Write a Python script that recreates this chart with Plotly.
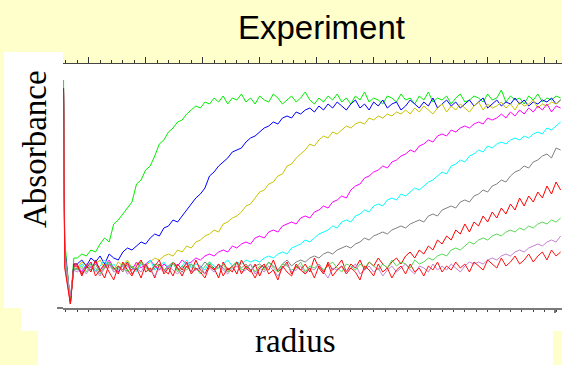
import plotly.graph_objects as go

# Radial scan positions (mm): meniscus region first, then the regular scan grid
radius = [59.78, 59.79, 59.84, 59.87,
          59.90, 59.94, 59.98, 60.02, 60.06, 60.10, 60.14, 60.18, 60.22, 60.26,
          60.30, 60.34, 60.38, 60.42, 60.46, 60.50, 60.54, 60.58, 60.62, 60.66,
          60.70, 60.74, 60.78, 60.82, 60.86, 60.90, 60.94, 60.98, 61.02, 61.06,
          61.10, 61.14, 61.18, 61.22, 61.26, 61.30, 61.34, 61.38, 61.42, 61.46,
          61.50, 61.54, 61.58, 61.62, 61.66, 61.70, 61.74, 61.78, 61.82, 61.86,
          61.90, 61.94, 61.98, 62.02, 62.06, 62.10, 62.14, 62.18, 62.22, 62.26,
          62.30, 62.34, 62.38, 62.42, 62.46, 62.50, 62.54, 62.58, 62.62, 62.66,
          62.70, 62.74, 62.78, 62.82, 62.86, 62.90, 62.94, 62.98, 63.02, 63.06,
          63.10, 63.14, 63.18, 63.22, 63.26, 63.30, 63.34, 63.38, 63.42, 63.46,
          63.50, 63.54, 63.58, 63.62, 63.66, 63.70, 63.74, 63.78, 63.82, 63.86,
          63.90, 63.94, 63.98, 64.02, 64.06, 64.10, 64.14]

# Absorbance scans, earliest to latest
scan_1 = [1.14, 0.34, 0.02, 0.25,
          0.25, 0.27, 0.26, 0.29, 0.28, 0.32, 0.35, 0.33, 0.42, 0.44,
          0.47, 0.50, 0.53, 0.62, 0.64, 0.69, 0.71, 0.76, 0.82, 0.84,
          0.88, 0.90, 0.93, 0.94, 0.97, 0.99, 1.01, 1.00, 1.03, 1.02,
          1.05,
          1.03, 1.06, 1.02, 1.05, 1.04, 1.07, 1.03, 1.05, 1.02, 1.06,
          1.04, 1.03, 1.07, 1.05, 1.02, 1.04, 1.06, 1.03, 1.05, 1.08,
          1.04, 1.02, 1.05, 1.03, 1.06, 1.04, 1.07, 1.03, 1.05, 1.02,
          1.06, 1.04, 1.08, 1.03, 1.05, 1.04, 1.02, 1.06, 1.05, 1.03,
          1.07, 1.04, 1.05, 1.02, 1.06, 1.04, 1.08, 1.03, 1.05, 1.04,
          1.06, 1.02, 1.05, 1.07, 1.03, 1.04, 1.06, 1.05, 1.03, 1.07,
          1.04, 1.05, 1.09, 1.03, 1.06, 1.04, 1.05, 1.02, 1.06, 1.04,
          1.07, 1.03, 1.05, 1.04, 1.06, 1.05]

scan_2 = [1.10, 0.30, 0.03, 0.22,
          0.22, 0.24, 0.21, 0.25, 0.23, 0.26, 0.22, 0.27, 0.25, 0.24,
          0.28, 0.30, 0.29, 0.31, 0.33, 0.32, 0.35, 0.37, 0.36, 0.40,
          0.41, 0.44, 0.43, 0.46, 0.49, 0.52, 0.55, 0.57, 0.60, 0.66,
          0.68, 0.71, 0.73, 0.75, 0.78, 0.79, 0.80, 0.83, 0.85, 0.86,
          0.88, 0.90, 0.91, 0.93, 0.92, 0.95, 0.96, 0.95, 0.98, 0.97,
          0.99, 1.00, 0.98, 1.01, 0.99, 1.02,
          1.00, 1.03, 1.01, 0.99, 1.02, 1.04, 1.00, 1.02, 0.99, 1.03,
          1.01, 1.04, 1.00, 1.02, 1.03, 0.99, 1.01, 1.04, 1.02, 1.00,
          1.03, 1.01, 1.05, 1.00, 1.02, 1.04, 1.01, 1.03, 1.00, 1.02,
          1.04, 1.01, 1.03, 1.05, 1.00, 1.02, 1.04, 1.01, 1.03, 1.02,
          1.05, 1.02, 1.04, 1.01, 1.03, 1.02, 1.04, 1.03, 1.05, 1.02,
          1.04]

scan_3 = [1.08, 0.28, 0.04, 0.20,
          0.20, 0.23, 0.21, 0.19, 0.22, 0.24, 0.20, 0.22, 0.19, 0.23,
          0.21, 0.24, 0.20, 0.22, 0.23, 0.21,
          0.23, 0.25, 0.24, 0.26, 0.27, 0.26, 0.29, 0.28, 0.31, 0.30,
          0.33, 0.34, 0.36, 0.37, 0.39, 0.38, 0.42, 0.43, 0.45, 0.46,
          0.48, 0.51, 0.52, 0.55, 0.58, 0.59, 0.62, 0.63, 0.66, 0.67,
          0.71, 0.72, 0.75, 0.77, 0.79, 0.82, 0.81, 0.84, 0.86, 0.85,
          0.88, 0.87, 0.89, 0.91, 0.90, 0.92, 0.93, 0.92, 0.95, 0.94,
          0.96, 0.95, 0.97, 0.96, 0.98, 0.97,
          0.99, 0.97, 1.00, 0.98, 1.01, 0.99, 0.97, 1.00, 1.02, 0.98,
          1.01, 0.99, 1.02, 1.00, 0.98, 1.01, 1.03, 0.99, 1.02, 1.00,
          1.01, 1.03, 1.00, 1.02, 0.99, 1.03, 1.01, 1.02, 1.04, 1.00,
          1.02, 1.01, 1.03, 1.02, 1.04]

scan_4 = [1.07, 0.27, 0.04, 0.21,
          0.21, 0.18, 0.22, 0.20, 0.23, 0.19, 0.21, 0.24, 0.20, 0.18,
          0.22, 0.21, 0.19, 0.23, 0.20, 0.22, 0.24, 0.21, 0.19, 0.22,
          0.20, 0.23, 0.21, 0.24, 0.22,
          0.23, 0.25, 0.24, 0.26, 0.27, 0.26, 0.28, 0.29, 0.28, 0.31,
          0.30, 0.32, 0.33, 0.32, 0.35, 0.36, 0.35, 0.38, 0.39, 0.38,
          0.41, 0.42, 0.43, 0.42, 0.45, 0.46, 0.45, 0.48, 0.49, 0.51,
          0.50, 0.53, 0.54, 0.56, 0.55, 0.59, 0.61, 0.62, 0.65, 0.66,
          0.68, 0.69, 0.71, 0.70, 0.73, 0.74, 0.76, 0.77, 0.79, 0.78,
          0.81, 0.82, 0.84, 0.83, 0.86, 0.87, 0.86, 0.89, 0.88, 0.90,
          0.91, 0.90, 0.92, 0.93, 0.92, 0.95, 0.94, 0.95, 0.97, 0.95,
          0.98, 0.96, 0.99, 0.97, 1.00, 0.98, 1.01, 0.99, 1.02, 0.98,
          1.01, 1.00]

scan_5 = [1.06, 0.26, 0.05, 0.20,
          0.19, 0.22, 0.20, 0.23, 0.18, 0.21, 0.24, 0.20, 0.22, 0.19,
          0.21, 0.23, 0.20, 0.18, 0.22, 0.21, 0.24, 0.19, 0.21, 0.23,
          0.20, 0.22, 0.19, 0.21, 0.24, 0.20, 0.22, 0.21, 0.19, 0.23,
          0.21, 0.20, 0.22, 0.24, 0.21, 0.23, 0.22, 0.24,
          0.23, 0.24, 0.23, 0.25, 0.26, 0.25, 0.27, 0.28, 0.27, 0.30,
          0.31, 0.32, 0.34, 0.33, 0.35, 0.37, 0.38, 0.39, 0.41, 0.40,
          0.43, 0.44, 0.43, 0.46, 0.47, 0.49, 0.48, 0.51, 0.52, 0.51,
          0.54, 0.55, 0.54, 0.57, 0.56, 0.58, 0.60, 0.59, 0.61, 0.63,
          0.64, 0.66, 0.68, 0.67, 0.71, 0.72, 0.74, 0.73, 0.76, 0.77,
          0.79, 0.78, 0.81, 0.80, 0.82, 0.83, 0.82, 0.84, 0.85, 0.84,
          0.86, 0.85, 0.87, 0.88, 0.87, 0.90, 0.89, 0.91, 0.93]

scan_6 = [1.05, 0.25, 0.04, 0.19,
          0.20, 0.17, 0.21, 0.19, 0.22, 0.18, 0.20, 0.23, 0.19, 0.21,
          0.18, 0.22, 0.20, 0.19, 0.23, 0.21, 0.18, 0.20, 0.22, 0.19,
          0.21, 0.23, 0.20, 0.18, 0.21, 0.22, 0.19, 0.20, 0.23, 0.21,
          0.19, 0.22, 0.20, 0.18, 0.21, 0.23, 0.20, 0.22, 0.19, 0.21,
          0.22, 0.20, 0.23, 0.21, 0.19, 0.22, 0.24, 0.21,
          0.23, 0.24, 0.23, 0.25, 0.26, 0.25, 0.27, 0.28, 0.27, 0.29,
          0.30, 0.31, 0.30, 0.32, 0.33, 0.35, 0.34, 0.36, 0.37, 0.38,
          0.37, 0.39, 0.40, 0.41, 0.40, 0.42, 0.43, 0.44, 0.43, 0.46,
          0.47, 0.46, 0.49, 0.50, 0.51, 0.50, 0.53, 0.54, 0.53, 0.56,
          0.57, 0.59, 0.58, 0.61, 0.62, 0.64, 0.63, 0.66, 0.68, 0.69,
          0.71, 0.70, 0.73, 0.74, 0.76, 0.77, 0.75, 0.80, 0.79]

scan_7 = [1.10, 0.22, 0.02, 0.22,
          0.22, 0.16, 0.21, 0.18, 0.24, 0.19, 0.15, 0.22, 0.20, 0.17,
          0.23, 0.19, 0.16, 0.21, 0.24, 0.18, 0.20, 0.15, 0.22, 0.19,
          0.17, 0.23, 0.20, 0.16, 0.21, 0.18, 0.24, 0.19, 0.17, 0.22,
          0.20, 0.15, 0.23, 0.19, 0.21, 0.17, 0.24, 0.20, 0.18, 0.22,
          0.16, 0.21, 0.19, 0.24, 0.18, 0.20, 0.23, 0.17, 0.21, 0.19,
          0.22, 0.18, 0.25, 0.20, 0.17, 0.23, 0.19, 0.21, 0.24, 0.18,
          0.22, 0.20, 0.24, 0.19, 0.23, 0.21, 0.25, 0.22, 0.20,
          0.23, 0.25, 0.22, 0.26, 0.28, 0.25, 0.29, 0.27, 0.31, 0.29,
          0.34, 0.32, 0.36, 0.34, 0.39, 0.37, 0.42, 0.38, 0.43, 0.41,
          0.46, 0.43, 0.48, 0.45, 0.50, 0.47, 0.52, 0.49, 0.55, 0.51,
          0.56, 0.53, 0.58, 0.55, 0.61, 0.57, 0.63, 0.59]

scan_8 = [1.04, 0.24, 0.05, 0.20,
          0.19, 0.21, 0.18, 0.22, 0.20, 0.17, 0.21, 0.23, 0.19, 0.20,
          0.22, 0.18, 0.21, 0.19, 0.23, 0.20, 0.18, 0.22, 0.21, 0.19,
          0.20, 0.23, 0.18, 0.21, 0.19, 0.22, 0.20, 0.17, 0.21, 0.23,
          0.19, 0.20, 0.22, 0.18, 0.21, 0.23, 0.19, 0.20, 0.22, 0.18,
          0.21, 0.19, 0.23, 0.20, 0.18, 0.22, 0.21, 0.19, 0.20, 0.23,
          0.18, 0.21, 0.20, 0.22, 0.19, 0.21, 0.23, 0.20, 0.18, 0.22,
          0.21, 0.19, 0.22, 0.20, 0.23, 0.21, 0.19, 0.22, 0.20, 0.24,
          0.21, 0.23, 0.22, 0.20, 0.24, 0.22,
          0.23, 0.25, 0.24, 0.26, 0.27, 0.26, 0.29, 0.30, 0.29, 0.31,
          0.33, 0.32, 0.34, 0.35, 0.34, 0.36, 0.37, 0.36, 0.38, 0.39,
          0.38, 0.40, 0.39, 0.41, 0.40, 0.42, 0.43, 0.42, 0.44, 0.43,
          0.45]

scan_9 = [1.02, 0.23, 0.06, 0.19,
          0.18, 0.20, 0.17, 0.21, 0.19, 0.16, 0.20, 0.22, 0.18, 0.19,
          0.21, 0.17, 0.19, 0.20, 0.18, 0.22, 0.19, 0.16, 0.20, 0.18,
          0.21, 0.19, 0.17, 0.20, 0.22, 0.18, 0.19, 0.21, 0.17, 0.20,
          0.18, 0.22, 0.19, 0.17, 0.20, 0.21, 0.18, 0.19, 0.22, 0.17,
          0.20, 0.18, 0.21, 0.19, 0.16, 0.20, 0.22, 0.18, 0.19, 0.21,
          0.17, 0.20, 0.19, 0.22, 0.18, 0.15, 0.20, 0.19, 0.21, 0.18,
          0.20, 0.22, 0.17, 0.19, 0.21, 0.18, 0.20, 0.16, 0.19, 0.21,
          0.18, 0.20, 0.22, 0.19, 0.17, 0.21, 0.20, 0.18, 0.22, 0.19,
          0.21, 0.19, 0.22, 0.20, 0.18, 0.21, 0.23,
          0.22, 0.23, 0.22, 0.24, 0.25, 0.24, 0.26, 0.27, 0.26, 0.28,
          0.29, 0.28, 0.30, 0.31, 0.32, 0.31, 0.33, 0.34, 0.33, 0.36]

scan_10 = [1.08, 0.20, 0.02, 0.21,
           0.21, 0.17, 0.20, 0.23, 0.16, 0.19, 0.22, 0.18, 0.14, 0.21,
           0.19, 0.23, 0.17, 0.20, 0.15, 0.22, 0.18, 0.21, 0.24, 0.17,
           0.20, 0.16, 0.22, 0.19, 0.23, 0.17, 0.20, 0.18, 0.15, 0.21,
           0.19, 0.22, 0.16, 0.20, 0.18, 0.23, 0.17, 0.21, 0.19, 0.15,
           0.20, 0.22, 0.17, 0.19, 0.14, 0.21, 0.18, 0.16, 0.22, 0.19,
           0.17, 0.20, 0.15, 0.21, 0.18, 0.22, 0.16, 0.19, 0.21, 0.17,
           0.20, 0.18, 0.14, 0.21, 0.19, 0.16, 0.22, 0.18, 0.20, 0.15,
           0.19, 0.21, 0.17, 0.22, 0.18, 0.20, 0.16, 0.21, 0.19, 0.23,
           0.18,
           0.21, 0.19, 0.23, 0.20, 0.22, 0.18, 0.23, 0.21, 0.19, 0.24,
           0.22, 0.20, 0.25, 0.21, 0.23, 0.26, 0.22, 0.24, 0.27, 0.23,
           0.26, 0.28, 0.24, 0.29, 0.26, 0.28]

scans = [scan_1, scan_2, scan_3, scan_4, scan_5,
         scan_6, scan_7, scan_8, scan_9, scan_10]
scan_colors = ["#00ee00", "#0000ff", "#c8c400", "#ff00ff", "#00ffff",
               "#808080", "#ff0000", "#55d855", "#c482d0", "#ff1010"]

for s in scans:
    assert len(s) == len(radius), len(s)

W, H = 562, 365
ML, MR, MT, MB = 63, 0, 64, 57
PW, PH = W - ML - MR, H - MT - MB


def px(x):
    return (x - ML) / PW


def py(y):
    return (H - MB - y) / PH


fig = go.Figure()
for s, c in zip(scans, scan_colors):
    fig.add_trace(go.Scatter(x=radius, y=s, mode="lines",
                             line=dict(color=c, width=1),
                             showlegend=False, hoverinfo="skip"))
# empty trace so the top tick axis is rendered
fig.add_trace(go.Scatter(x=[], y=[], xaxis="x2", showlegend=False))

x_range = [59.775, 64.152]
yellow = "#ffffcc"

fig.update_layout(
    width=W, height=H, autosize=False,
    margin=dict(l=ML, r=MR, t=MT, b=MB, pad=0),
    paper_bgcolor=yellow, plot_bgcolor="white",
    xaxis=dict(range=x_range, showline=True, linecolor="#7a7a7a", linewidth=2,
               ticks="outside", ticklen=2, tickwidth=1, tickcolor="#444",
               tick0=60, dtick=0.1, showticklabels=False,
               showgrid=False, zeroline=False),
    xaxis2=dict(range=x_range, overlaying="x", side="top", anchor="y",
                showline=True, linecolor="#444", linewidth=1,
                ticks="outside", ticklen=6, tickwidth=1, tickcolor="#333",
                tick0=60, dtick=0.5, showticklabels=False,
                minor=dict(tick0=60, dtick=0.1, ticks="outside", ticklen=3,
                           tickwidth=1, tickcolor="#333"),
                showgrid=False, zeroline=False),
    yaxis=dict(range=[0, 1.22], showline=False, ticks="", showticklabels=False,
               showgrid=False, zeroline=False),
)

# white panels behind the axis titles
white_boxes = [
    (4, 52, 63, H - MB),
    (21, H - MB, W, 331),
    (38, 331, 553, H),
]
for x0, y0, x1, y1 in white_boxes:
    fig.add_shape(type="rect", xref="paper", yref="paper", layer="below",
                  x0=px(x0), x1=px(x1), y0=py(y1), y1=py(y0),
                  fillcolor="white", line=dict(width=0))

# extension of the bottom axis line and the end tick
fig.add_shape(type="line", xref="paper", yref="paper",
              x0=px(57), x1=px(63), y0=0, y1=0,
              line=dict(color="#7a7a7a", width=2))
fig.add_shape(type="line", xref="paper", yref="paper",
              x0=px(555), x1=px(555), y0=0, y1=py(313),
              line=dict(color="#7a7a7a", width=2))

fig.add_annotation(text="Experiment", xref="paper", yref="paper",
                   x=px(321.5), y=py(27), xanchor="center", yanchor="middle",
                   showarrow=False,
                   font=dict(family="Liberation Sans, Arial", size=33, color="black"))
fig.add_annotation(text="Absorbance", xref="paper", yref="paper",
                   x=px(35), y=py(149), xanchor="center", yanchor="middle",
                   textangle=-90, showarrow=False,
                   font=dict(family="Liberation Serif, Times New Roman", size=33,
                             color="black"))
fig.add_annotation(text="radius", xref="paper", yref="paper",
                   x=px(295), y=py(341), xanchor="center", yanchor="middle",
                   showarrow=False,
                   font=dict(family="Liberation Serif, Times New Roman", size=33,
                             color="black"))

fig.write_html("out.html")
